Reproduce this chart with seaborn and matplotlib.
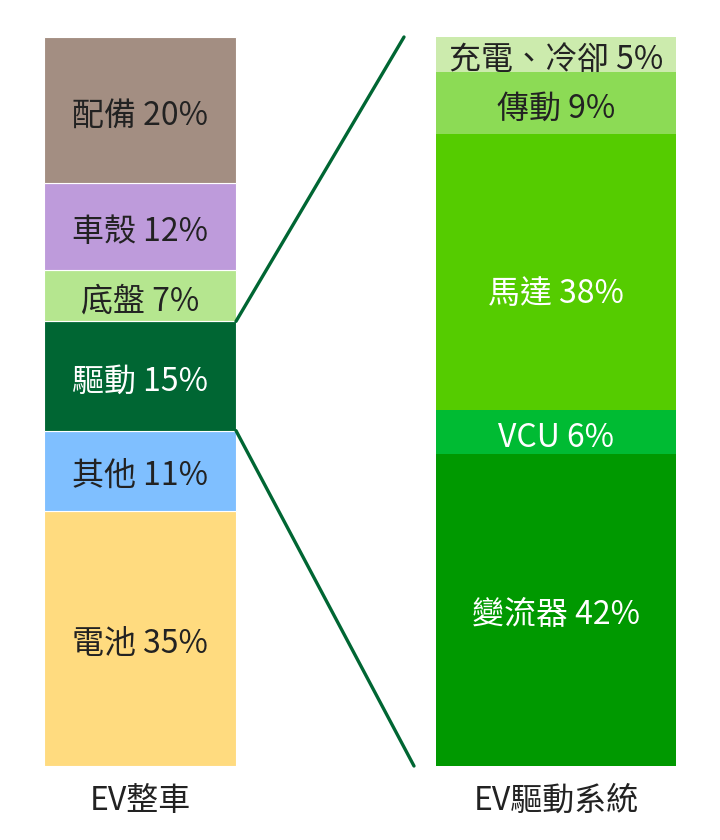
import matplotlib
matplotlib.use("Agg")
import matplotlib.pyplot as plt
import seaborn as sns
import numpy as np

sns.set_theme(style="white")
plt.rcParams['font.family'] = ['Noto Sans CJK TC', 'DejaVu Sans']

# Data (bottom to top)
left_title = "EV整車"
left_labels = ["電池", "其他", "驅動", "底盤", "車殼", "配備"]
left_values = [35, 11, 15, 7, 12, 20]
left_pct = ["35%", "11%", "15%", "7%", "12%", "20%"]
left_colors = ["#FFDB7F", "#7FBFFF", "#006633", "#B5E68F", "#BE9BDB", "#A38E82"]
left_text = ["#222222", "#222222", "#FFFFFF", "#222222", "#222222", "#222222"]

right_title = "EV驅動系統"
right_labels = ["變流器", "VCU", "馬達", "傳動", "充電、冷卻"]
right_values = [42.8, 6.0, 37.9, 8.5, 4.8]
right_pct = ["42%", "6%", "38%", "9%", "5%"]
right_colors = ["#009900", "#00BB33", "#55CC00", "#8CDB55", "#CCEBAD"]
right_text = ["#FFFFFF", "#FFFFFF", "#FFFFFF", "#222222", "#222222"]

W, H = 720, 840
fig = plt.figure(figsize=(W / 100, H / 100), dpi=100)
ax = fig.add_axes([0, (H - 766) / H, 1, 729 / H])
ax.set_xlim(0, W)
ax.set_ylim(0, 100)
ax.axis("off")

FS = 23
DY = -0.75  # small visual shift so glyphs sit at segment centre


def stack(center, width, labels, values, pcts, colors, tcolors, title, edge, label_shift=None):
    bottoms = np.concatenate([[0], np.cumsum(values)[:-1]])
    for k, (lab, v, b, p, c, tc) in enumerate(zip(labels, values, bottoms, pcts, colors, tcolors)):
        ax.bar(center, v, bottom=b, width=width, color=c,
               edgecolor="white" if edge else c, linewidth=0.8 if edge else 0)
        extra = label_shift.get(k, 0) if label_shift else 0
        ax.text(center, b + v / 2 + DY + extra, f"{lab} {p}", ha="center", va="center",
                color=tc, fontsize=FS)
    ax.text(center, -4 + DY, title, ha="center", va="center", color="#222222",
            fontsize=FS, clip_on=False)
    return bottoms


lb = stack(140, 192, left_labels, left_values, left_pct, left_colors, left_text, left_title, True)
stack(556, 240, right_labels, right_values, right_pct, right_colors, right_text, right_title, False,
      label_shift={2: -2.3})

# connector lines from drive segment to the right column
i = left_labels.index("驅動")
d_bot = lb[i]
d_top = lb[i] + left_values[i]
total = sum(right_values)
ax.plot([236, 404], [d_top, total], color="#006633", lw=2.4, solid_capstyle="round", clip_on=False)
ax.plot([236, 414], [d_bot, 0], color="#006633", lw=2.4, solid_capstyle="round", clip_on=False)

fig.savefig("out.png", dpi=100, facecolor="white")
